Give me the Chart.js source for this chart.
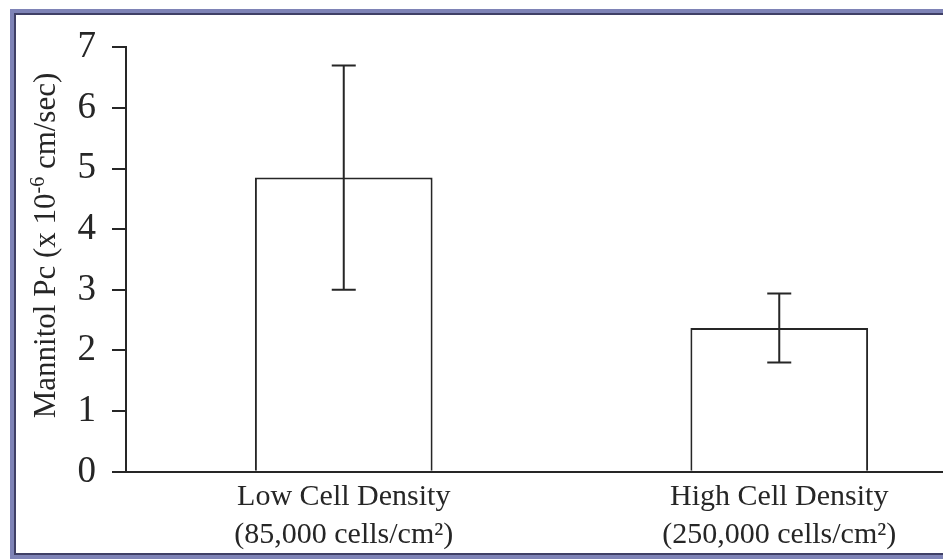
<!DOCTYPE html>
<html>
<head>
<meta charset="utf-8">
<script src="https://cdn.jsdelivr.net/npm/chart.js@4.4.0/dist/chart.umd.min.js"></script>
<style>
    html, body { margin: 0; padding: 0; background: #ffffff; overflow: hidden; }
    body { width: 943px; height: 560px; position: relative; }
    #frame {
        position: absolute; left: 10px; top: 9px;
        width: 1100px; height: 542px;
        border: 4px solid #7e83b6;
        box-shadow: inset 0 0 0 2px #3f4066;
    }
    #wrap { position: absolute; left: 0; top: 9px; width: 997px; height: 551px; }
</style>
</head>
<body>
<div id="frame"></div>
<div id="wrap"><canvas id="pcChart"></canvas></div>
<script>
// Values
const categories = [
    ['Low Cell Density', '(85,000 cells/cm\u00B2)'],
    ['High Cell Density', '(250,000 cells/cm\u00B2)']
];
const meanPc = [4.85, 2.37];
const errPc = [1.85, 0.57];
const yTicks = [0, 1, 2, 3, 4, 5, 6, 7];

const INK = '#262626';
const SERIF = "'Liberation Serif', 'Times New Roman', serif";

// Error bars (mean +/- err) drawn through the y scale
const errorBars = {
    id: 'errorBars',
    afterDatasetsDraw(chart) {
        const ctx = chart.ctx;
        const y = chart.scales.y;
        const meta = chart.getDatasetMeta(0);
        ctx.save();
        ctx.strokeStyle = INK;
        ctx.lineWidth = 2;
        meta.data.forEach((bar, i) => {
            const top = y.getPixelForValue(meanPc[i] + errPc[i]);
            const bot = y.getPixelForValue(meanPc[i] - errPc[i]);
            const cap = 12;
            ctx.beginPath();
            ctx.moveTo(bar.x, top); ctx.lineTo(bar.x, bot);
            ctx.moveTo(bar.x - cap, top); ctx.lineTo(bar.x + cap, top);
            ctx.moveTo(bar.x - cap, bot); ctx.lineTo(bar.x + cap, bot);
            ctx.stroke();
        });
        ctx.restore();
    }
};

// Rotated y title with a raised exponent
const yTitle = {
    id: 'yTitle',
    afterDraw(chart) {
        const ctx = chart.ctx;
        const area = chart.chartArea;
        const parts = [
            { t: 'Mannitol Pc (x 10', size: 31, rise: 0 },
            { t: '-6', size: 20, rise: 11 },
            { t: ' cm/sec)', size: 31, rise: 0 }
        ];
        ctx.save();
        ctx.fillStyle = INK;
        ctx.textBaseline = 'alphabetic';
        let total = 0;
        parts.forEach(p => {
            ctx.font = p.size + 'px ' + SERIF;
            p.w = ctx.measureText(p.t).width;
            total += p.w;
        });
        ctx.translate(55, (area.top + area.bottom) / 2 - 14);
        ctx.rotate(-Math.PI / 2);
        let x = -total / 2;
        parts.forEach(p => {
            ctx.font = p.size + 'px ' + SERIF;
            ctx.fillText(p.t, x, -p.rise);
            x += p.w;
        });
        ctx.restore();
    }
};

new Chart(document.getElementById('pcChart'), {
    type: 'bar',
    data: {
        labels: categories,
        datasets: [{
            data: meanPc,
            backgroundColor: '#ffffff',
            borderColor: INK,
            borderWidth: 2,
            barPercentage: 0.408,
            categoryPercentage: 1.0
        }]
    },
    options: {
        responsive: true,
        maintainAspectRatio: false,
        animation: false,
        events: [],
        layout: { padding: { top: 35, left: 0, right: 0, bottom: 0 } },
        plugins: { legend: { display: false }, tooltip: { enabled: false } },
        scales: {
            x: {
                grid: { display: false, drawTicks: false },
                border: { display: true, color: INK, width: 2 },
                ticks: {
                    color: INK,
                    padding: 6,
                    font: { family: SERIF, size: 30, lineHeight: 1.27 }
                }
            },
            y: {
                min: 0,
                max: 7,
                afterBuildTicks: (scale) => { scale.ticks = yTicks.map(v => ({ value: v })); },
                afterFit: (scale) => { scale.width = 126; },
                grid: { drawOnChartArea: false, drawTicks: true, tickLength: 14, color: INK, lineWidth: 2 },
                border: { display: true, color: INK, width: 2 },
                ticks: {
                    color: INK,
                    padding: 16,
                    font: { family: SERIF, size: 37 }
                }
            }
        }
    },
    plugins: [errorBars, yTitle]
});
</script>
</body>
</html>
